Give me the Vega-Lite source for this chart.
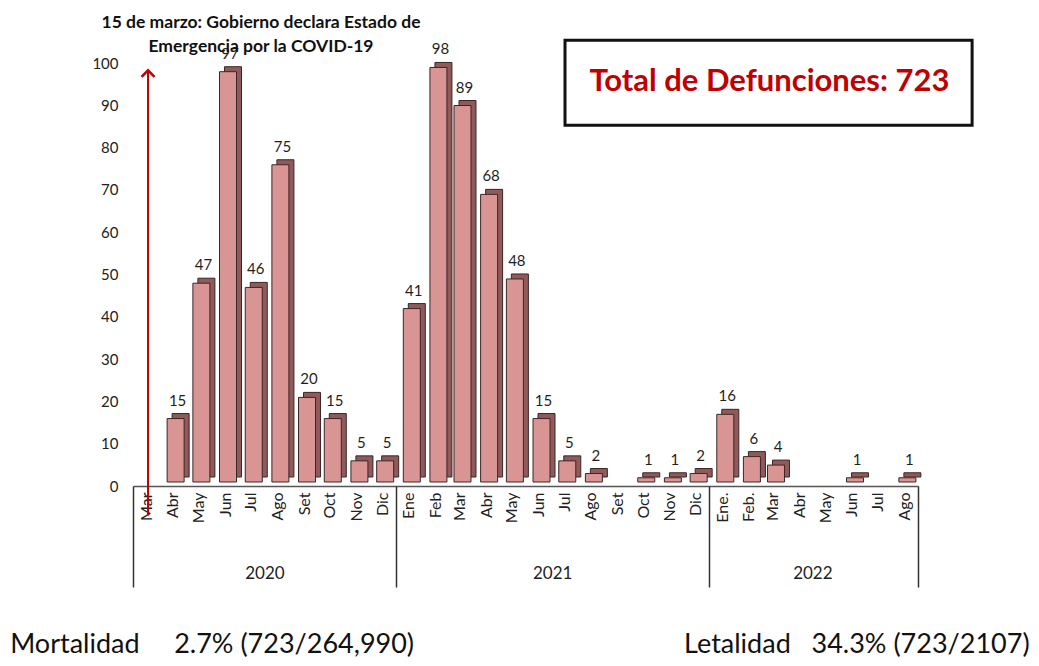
{
  "$schema": "https://vega.github.io/schema/vega-lite/v6.json",
  "width": 785,
  "height": 423,
  "autosize": {"type": "none"},
  "padding": {"left": 133, "top": 63, "right": 121, "bottom": 180},
  "background": "white",
  "title": {
    "text": ["15 de marzo: Gobierno declara Estado de", "Emergencia por la COVID-19"],
    "anchor": "start",
    "frame": "group",
    "align": "center",
    "dx": 128,
    "dy": 25,
    "offset": 8,
    "font": "Lato",
    "fontSize": 17.5,
    "fontWeight": "bold",
    "color": "#111111",
    "lineHeight": 24
  },
  "config": {
    "view": {"stroke": null},
    "font": "Lato",
    "axisY": {
      "values": [0, 10, 20, 30, 40, 50, 60, 70, 80, 90, 100],
      "domain": false,
      "ticks": false,
      "grid": false,
      "labelPadding": 15,
      "labelFontSize": 15,
      "labelColor": "#222222",
      "labelFont": "Lato"
    }
  },
  "data": {
    "values": [
      {"fecha": "2020-03", "defunciones": 0},
      {"fecha": "2020-04", "defunciones": 15},
      {"fecha": "2020-05", "defunciones": 47},
      {"fecha": "2020-06", "defunciones": 97},
      {"fecha": "2020-07", "defunciones": 46},
      {"fecha": "2020-08", "defunciones": 75},
      {"fecha": "2020-09", "defunciones": 20},
      {"fecha": "2020-10", "defunciones": 15},
      {"fecha": "2020-11", "defunciones": 5},
      {"fecha": "2020-12", "defunciones": 5},
      {"fecha": "2021-01", "defunciones": 41},
      {"fecha": "2021-02", "defunciones": 98},
      {"fecha": "2021-03", "defunciones": 89},
      {"fecha": "2021-04", "defunciones": 68},
      {"fecha": "2021-05", "defunciones": 48},
      {"fecha": "2021-06", "defunciones": 15},
      {"fecha": "2021-07", "defunciones": 5},
      {"fecha": "2021-08", "defunciones": 2},
      {"fecha": "2021-09", "defunciones": 0},
      {"fecha": "2021-10", "defunciones": 1},
      {"fecha": "2021-11", "defunciones": 1},
      {"fecha": "2021-12", "defunciones": 2},
      {"fecha": "2022-01", "defunciones": 16},
      {"fecha": "2022-02", "defunciones": 6},
      {"fecha": "2022-03", "defunciones": 4},
      {"fecha": "2022-04", "defunciones": 0},
      {"fecha": "2022-05", "defunciones": 0},
      {"fecha": "2022-06", "defunciones": 1},
      {"fecha": "2022-07", "defunciones": 0},
      {"fecha": "2022-08", "defunciones": 1}
    ]
  },
  "layer": [
    {
      "transform": [{"filter": "datum.defunciones > 0"}],
      "mark": {"type": "bar", "width": 17, "xOffset": 21, "yOffset": -9, "y2Offset": -9, "color": "#8f5a59", "stroke": "#3a2626", "strokeWidth": 1},
      "encoding": {
        "x": {
          "field": "fecha", "type": "temporal", "title": null,
          "scale": {"type": "utc", "nice": false, "padding": 0, "domain": [{"year": 2020, "month": 3, "date": 1, "utc": true}, {"year": 2022, "month": 9, "date": 1, "utc": true}]},
          "axis": {
            "orient": "bottom",
            "tickCount": {"interval": "month", "step": 1},
            "labelExpr": "(utcyear(datum.value) == 2022 && utcmonth(datum.value) > 7) ? '' : ((utcyear(datum.value) == 2022 && utcmonth(datum.value) < 2) ? ['Ene.', 'Feb.'][utcmonth(datum.value)] : ['Ene', 'Feb', 'Mar', 'Abr', 'May', 'Jun', 'Jul', 'Ago', 'Set', 'Oct', 'Nov', 'Dic'][utcmonth(datum.value)])",
            "labelAngle": -90,
            "labelOffset": 13,
            "labelPadding": 6,
            "labelFontSize": 16,
            "labelColor": "#222222",
            "labelFlush": false,
            "labelOverlap": false,
            "labelBound": false,
            "ticks": false,
            "grid": false,
            "domain": true,
            "domainColor": "#555555",
            "domainWidth": 1.5
          }
        },
        "y": {
          "field": "defunciones", "type": "quantitative", "title": null,
          "scale": {"domain": [0, 100], "nice": false}
        }
      }
    },
    {
      "transform": [{"filter": "datum.defunciones > 0"}],
      "mark": {"type": "bar", "width": 17, "xOffset": 16, "yOffset": -4, "y2Offset": -4, "color": "#d99594", "stroke": "#3a2626", "strokeWidth": 1},
      "encoding": {
        "x": {
          "field": "fecha", "type": "temporal", "title": null,
          "axis": {
            "orient": "bottom",
            "values": [
              {"year": 2020, "month": 3, "date": 1, "utc": true},
              {"year": 2021, "month": 1, "date": 1, "utc": true},
              {"year": 2022, "month": 1, "date": 1, "utc": true},
              {"year": 2022, "month": 9, "date": 1, "utc": true}
            ],
            "labels": false,
            "ticks": true,
            "tickSize": 101,
            "tickColor": "#333333",
            "tickWidth": 1.5,
            "domain": false,
            "grid": false
          }
        },
        "y": {"field": "defunciones", "type": "quantitative", "title": null}
      }
    },
    {
      "transform": [{"filter": "datum.defunciones > 0"}],
      "mark": {"type": "text", "xOffset": 18, "yOffset": -14, "baseline": "bottom", "align": "center", "fontSize": 15, "color": "#1f1f1f"},
      "encoding": {
        "x": {
          "field": "fecha", "type": "temporal", "title": null,
          "axis": {
            "orient": "bottom",
            "values": [
              {"year": 2020, "month": 8, "date": 1, "utc": true},
              {"year": 2021, "month": 7, "date": 2, "utc": true},
              {"year": 2022, "month": 5, "date": 1, "utc": true}
            ],
            "labelExpr": "utcyear(datum.value)",
            "labelAngle": 0,
            "labelPadding": 79,
            "labelFontSize": 17,
            "labelColor": "#222222",
            "labelFlush": false,
            "labelOverlap": false,
            "ticks": false,
            "domain": false,
            "grid": false
          }
        },
        "y": {"field": "defunciones", "type": "quantitative", "title": null},
        "text": {"field": "defunciones", "type": "quantitative"}
      }
    },
    {
      "data": {"values": [{"cuadro": "Total de Defunciones"}]},
      "mark": {"type": "rect", "fill": "white", "stroke": "#111111", "strokeWidth": 3},
      "encoding": {
        "x": {"datum": {"year": 2021, "month": 7, "date": 17, "utc": true}, "type": "temporal", "title": null, "axis": null},
        "x2": {"datum": {"year": 2022, "month": 11, "date": 3, "utc": true}},
        "y": {"datum": 105.4, "type": "quantitative", "title": null},
        "y2": {"datum": 85.3}
      }
    },
    {
      "data": {"values": [{"texto": "Total de Defunciones: 723"}]},
      "mark": {"type": "text", "align": "center", "baseline": "middle", "fontSize": 31, "fontWeight": "bold", "color": "#c00000"},
      "encoding": {
        "x": {"datum": {"year": 2022, "month": 3, "date": 12, "utc": true}, "type": "temporal", "title": null, "axis": null},
        "y": {"datum": 95.5, "type": "quantitative", "title": null},
        "text": {"field": "texto"}
      }
    },
    {
      "data": {"values": [{"texto": "Mortalidad\u00a0\u00a0\u00a0\u00a0 2.7% (723/264,990)"}]},
      "mark": {"type": "text", "align": "left", "baseline": "middle", "fontSize": 27, "color": "#111111"},
      "encoding": {
        "x": {"datum": {"year": 2019, "month": 10, "date": 10, "utc": true}, "type": "temporal", "title": null, "axis": null},
        "y": {"datum": -37.6, "type": "quantitative", "title": null},
        "text": {"field": "texto"}
      }
    },
    {
      "data": {"values": [{"texto": "Letalidad\u00a0\u00a0 34.3% (723/2107)"}]},
      "mark": {"type": "text", "align": "right", "baseline": "middle", "fontSize": 27, "color": "#111111"},
      "encoding": {
        "x": {"datum": {"year": 2023, "month": 1, "date": 9, "utc": true}, "type": "temporal", "title": null, "axis": null},
        "y": {"datum": -37.6, "type": "quantitative", "title": null},
        "text": {"field": "texto"}
      }
    },
    {
      "data": {"values": [{"evento": "Estado de Emergencia"}]},
      "mark": {"type": "rule", "color": "#c00000", "strokeWidth": 2, "xOffset": 3},
      "encoding": {
        "x": {"datum": {"year": 2020, "month": 3, "date": 15, "utc": true}, "type": "temporal", "title": null, "axis": null},
        "y": {"datum": -7, "type": "quantitative", "title": null},
        "y2": {"datum": 98.3}
      }
    },
    {
      "data": {"values": [{"evento": "Estado de Emergencia"}]},
      "mark": {"type": "point", "shape": "M-1,0.5L0,-0.5L1,0.5", "size": 169, "filled": false, "stroke": "#c00000", "strokeWidth": 2.5, "xOffset": 3, "opacity": 1},
      "encoding": {
        "x": {"datum": {"year": 2020, "month": 3, "date": 15, "utc": true}, "type": "temporal", "title": null, "axis": null},
        "y": {"datum": 97.5, "type": "quantitative", "title": null}
      }
    }
  ],
  "resolve": {"axis": {"x": "independent"}}
}
